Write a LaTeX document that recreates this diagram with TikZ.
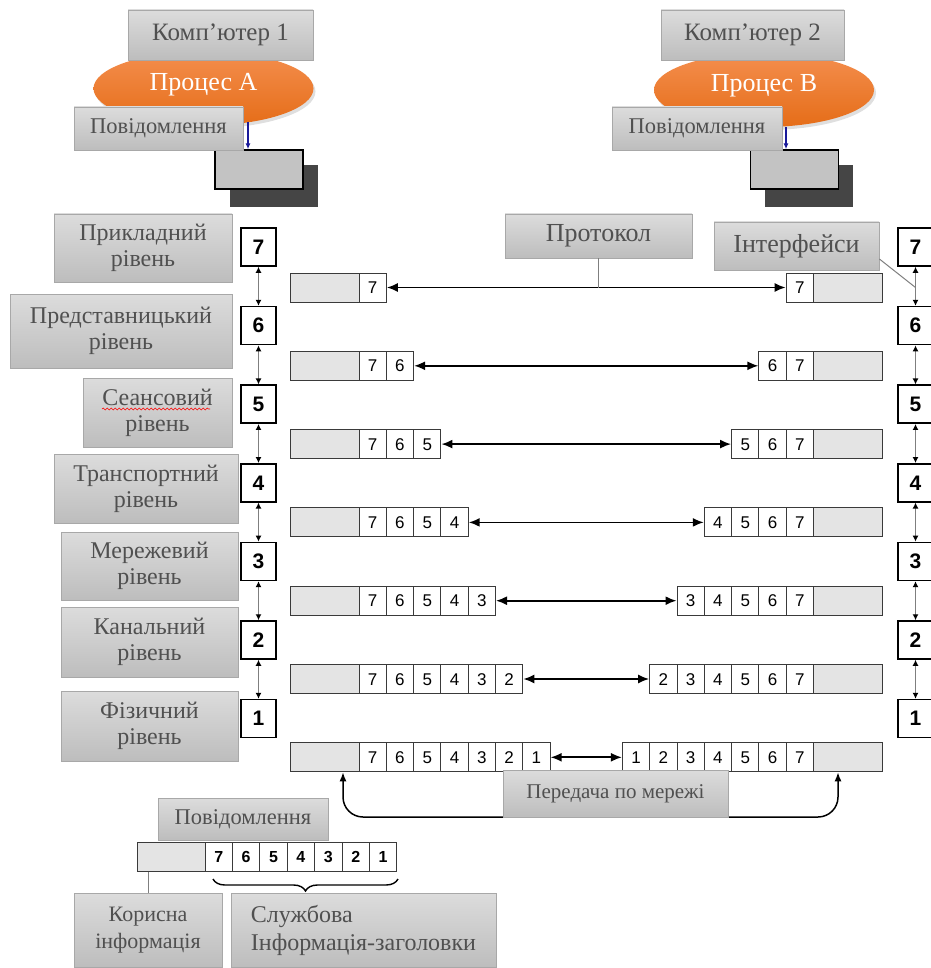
\documentclass[tikz,border=0pt]{standalone}
\usepackage{fontspec}
\setmainfont{Liberation Serif}
\setsansfont{Liberation Sans}
\usepackage{xcolor}
\usetikzlibrary{arrows.meta,positioning,shapes.geometric,shadows,decorations.pathreplacing,decorations.pathmorphing}

\definecolor{boxtop}{HTML}{DCDCDC}
\definecolor{boxbot}{HTML}{BDBDBD}
\definecolor{boxline}{HTML}{A8A8A8}
\definecolor{boxtext}{HTML}{505050}
\definecolor{procTop}{HTML}{F48E4E}
\definecolor{procBot}{HTML}{E56D18}
\definecolor{barfill}{HTML}{E4E4E4}
\definecolor{cellline}{HTML}{3A3A3A}
\definecolor{linkgray}{HTML}{7F7F7F}
\definecolor{msgfill}{HTML}{C3C3C3}
\definecolor{shadowgray}{HTML}{454545}
\definecolor{navy}{HTML}{1A1A9A}

\begin{document}
\begin{tikzpicture}[x=1pt,y=-1pt,
  greybox/.style={draw=boxline, line width=0.8pt, top color=boxtop, bottom color=boxbot,
    text=boxtext, align=center, inner sep=0pt, font=\fontsize{24}{26}\selectfont},
  process/.style={ellipse, top color=procTop, bottom color=procBot, text=white,
    minimum width=220, minimum height=74, inner sep=0pt, text height=18pt, text depth=14pt,
    drop shadow={opacity=0.25, shadow xshift=2pt, shadow yshift=-3pt},
    font=\fontsize{26}{28}\selectfont},
  msgbox/.style={draw=black, line width=1.4pt, fill=msgfill, minimum width=88,
    minimum height=39, inner sep=0pt},
  msgshadow/.style={fill=shadowgray, minimum width=88, minimum height=42, inner sep=0pt},
  layerbox/.style={draw=black, line width=1.5pt, fill=white, minimum width=35,
    minimum height=38, inner sep=0pt, font=\sffamily\bfseries\fontsize{21}{21}\selectfont},
  hcell/.style={draw=cellline, line width=1pt, fill=white, minimum width=27.3,
    minimum height=29, inner sep=0pt, text height=12pt, text depth=0pt,
    font=\sffamily\fontsize{17}{17}\selectfont},
  hpad/.style={draw=cellline, line width=1pt, fill=barfill, minimum width=69,
    minimum height=29, inner sep=0pt},
  peer/.style={{Latex[length=11pt,width=9pt]}-{Latex[length=11pt,width=9pt]}, line width=1.8pt},
  vlink/.style={{Latex[length=6pt,width=6pt,color=black]}-{Latex[length=6pt,width=6pt,color=black]},
    draw=linkgray, line width=1.5pt},
  thinlink/.style={draw=linkgray, line width=1pt},
  downarrow/.style={-{Latex[length=6pt,width=5pt]}, draw=navy, line width=1.2pt}
]

\useasboundingbox (0,0) rectangle (930,968);

%-------------------------------------------------
% Computer 1
%-------------------------------------------------

\node[process] (procA) at (203.5,88.5) {Процес А};
\node[greybox, minimum width=185, minimum height=50, font=\fontsize{25}{26}\selectfont]
  (compA) at (220.5,35) {Комп’ютер 1};
\node[msgshadow] at (273.5,186) {};
\node[msgbox] (msgA) at (259,169.5) {};
\node[greybox, minimum width=169, minimum height=43, font=\fontsize{22.5}{24}\selectfont]
  (noteA) at (158.5,128.5) {Повідомлення};
\coordinate (tA) at (248,122);
\draw[downarrow] (tA) -- (tA |- msgA.north);

%-------------------------------------------------
% Computer 2
%-------------------------------------------------

\node[process] (procB) at (764,90) {Процес B};
\node[greybox, minimum width=183, minimum height=50, font=\fontsize{25}{26}\selectfont]
  (compB) at (752.5,35) {Комп’ютер 2};
\node[msgshadow] at (809,186) {};
\node[msgbox] (msgB) at (794.5,169.5) {};
\node[greybox, minimum width=170, minimum height=43, font=\fontsize{22.5}{24}\selectfont]
  (noteB) at (697,128.5) {Повідомлення};
\coordinate (tB) at (786,127);
\draw[downarrow] (tB) -- (tB |- msgB.north);

%-------------------------------------------------
% Layer names
%-------------------------------------------------

\node[greybox, minimum width=178, minimum height=68] (app)  at (143,248)   {Прикладний\\рівень};
\node[greybox, minimum width=222, minimum height=74] (pres) at (121,331)   {Представницький\\рівень};
\node[greybox, minimum width=149, minimum height=69] (sess) at (157.5,412.5) {Сеансовий\\рівень};
\node[greybox, minimum width=184, minimum height=69] (tran) at (146,488.5) {Транспортний\\рівень};
\node[greybox, minimum width=177, minimum height=68] (netw) at (149.5,566) {Мережевий\\рівень};
\node[greybox, minimum width=177, minimum height=70] (link) at (149.5,642) {Канальний\\рівень};
\node[greybox, minimum width=177, minimum height=70] (phys) at (149.5,726) {Фізичний\\рівень};

\draw[red, line width=0.6pt, decorate, decoration={snake, amplitude=0.9pt, segment length=4pt}]
  (102,409) -- (210,409);

%-------------------------------------------------
% Layer stacks
%-------------------------------------------------

\foreach \n in {1,...,7}{
  \node[layerbox] (A\n) at (258.5,{247+78.6*(7-\n)}) {\n};
  \node[layerbox] (B\n) at (915.5,{247+78.6*(7-\n)}) {\n};
}
\foreach \n/\m in {7/6,6/5,5/4,4/3,3/2,2/1}{
  \draw[vlink] (A\n.south) -- (A\m.north);
  \draw[vlink] (B\n.south) -- (B\m.north);
}

%-------------------------------------------------
% Headers on each level
%-------------------------------------------------

\foreach \k in {1,...,7}{
  \pgfmathsetmacro{\ry}{287.5+78.3*(\k-1)}
  \node[hpad] (L\k-0) at (324.5,\ry) {};
  \node[hpad] (R\k-0) at (848,\ry) {};
  \foreach \j in {1,...,\k}{
    \pgfmathtruncatemacro{\dl}{8-\j}
    \pgfmathtruncatemacro{\dr}{7-\k+\j}
    \node[hcell] (L\k-\j) at ({359+27.3*(\j-0.5)},\ry) {\dl};
    \node[hcell] (R\k-\j) at ({813.5-27.3*(\k-\j+0.5)},\ry) {\dr};
  }
  \draw[peer] (L\k-\k.east) -- (R\k-1.west);
}

%-------------------------------------------------
% Protocol / Interfaces
%-------------------------------------------------

\node[greybox, minimum width=187, minimum height=44, font=\fontsize{26}{28}\selectfont]
  (proto) at (598.5,236) {Протокол};
\draw[thinlink] (proto.south) -- (proto.south |- L1-1.center);

\node[greybox, minimum width=165, minimum height=48, font=\fontsize{26}{28}\selectfont]
  (iface) at (796.5,246) {Інтерфейси};
\draw[thinlink] ([yshift=-13pt]iface.east) -- (B7.south |- L1-1.center);

%-------------------------------------------------
% Transfer over network
%-------------------------------------------------

\coordinate (netb) at (615.5,817);
\draw[{Latex[length=9pt,width=7pt]}-{Latex[length=9pt,width=7pt]}, line width=1.5pt, rounded corners=20pt]
  ([xshift=18.5pt]L7-0.south) |- (netb) -| ([xshift=-10pt]R7-0.south);
\node[greybox, minimum width=225, minimum height=47, font=\fontsize{21}{22}\selectfont]
  (net) at (615.5,793.5) {Передача по мережі};

%-------------------------------------------------
% Message legend
%-------------------------------------------------

\node[greybox, minimum width=170, minimum height=42, font=\fontsize{22.5}{24}\selectfont]
  (msgL) at (243,819) {Повідомлення};
\node[hpad, minimum width=68] (M0) at (171,856.5) {};
\foreach \j in {1,...,7}{
  \pgfmathtruncatemacro{\d}{8-\j}
  \node[hcell, minimum width=27.4, font=\sffamily\bfseries\fontsize{16}{16}\selectfont]
    (M\j) at ({205+27.4*(\j-0.5)},856.5) {\d};
}
\draw[decorate, decoration={brace, amplitude=12pt}, line width=1.4pt] (398,879) -- (213,879);

\node[greybox, minimum width=148, minimum height=74, font=\fontsize{22}{27}\selectfont]
  (useful) at (148,930) {Корисна\\інформація};
\draw[thinlink] (M0.south -| useful.north) -- (useful.north);

\node[greybox, minimum width=265, minimum height=74, align=left, font=\fontsize{24}{28}\selectfont]
  (service) at (363.5,930) {Службова\\Інформація-заголовки};

\end{tikzpicture}
\end{document}
